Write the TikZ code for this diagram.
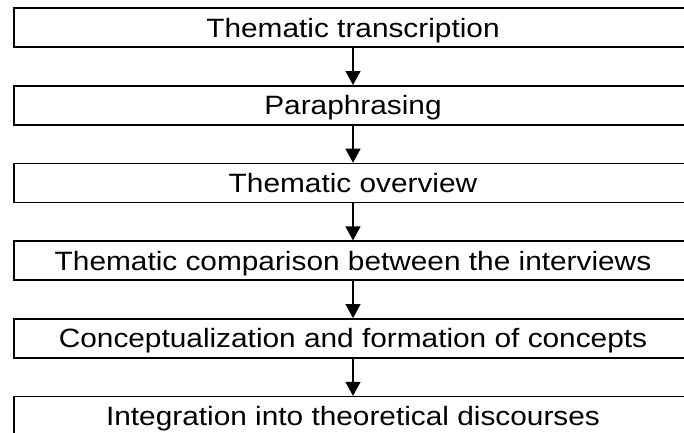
\documentclass[tikz,border=0pt]{standalone}
\usepackage{fontspec}
\setmainfont{Liberation Sans}[FakeStretch=1.125]
\usetikzlibrary{arrows.meta}
\begin{document}
\begin{tikzpicture}[x=1pt,y=1pt,
  stage/.style={draw=black, line width=1.6pt, rectangle, minimum width=678pt,
    text height=19pt, text depth=0pt, inner ysep=10pt, inner xsep=0pt,
    font=\fontsize{26.5}{30}\selectfont, anchor=north},
  flow/.style={line width=1.2pt, -{Triangle[length=14pt,width=15pt]}}]
  \useasboundingbox (0,0) rectangle (684,-432);
  \node[stage] (s1) at (353,-7.3)   {Thematic transcription};
  \node[stage] (s2) at (353,-85.0)  {Paraphrasing};
  \node[stage] (s3) at (353,-162.7) {Thematic overview};
  \node[stage] (s4) at (353,-240.4) {Thematic comparison between the interviews};
  \node[stage] (s5) at (353,-318.1) {Conceptualization and formation of concepts};
  \node[stage] (s6) at (353,-395.8) {Integration into theoretical discourses};
  \foreach \a/\b in {s1/s2,s2/s3,s3/s4,s4/s5,s5/s6}
    \draw[flow] (\a.south) -- (\b.north);
\end{tikzpicture}
\end{document}
